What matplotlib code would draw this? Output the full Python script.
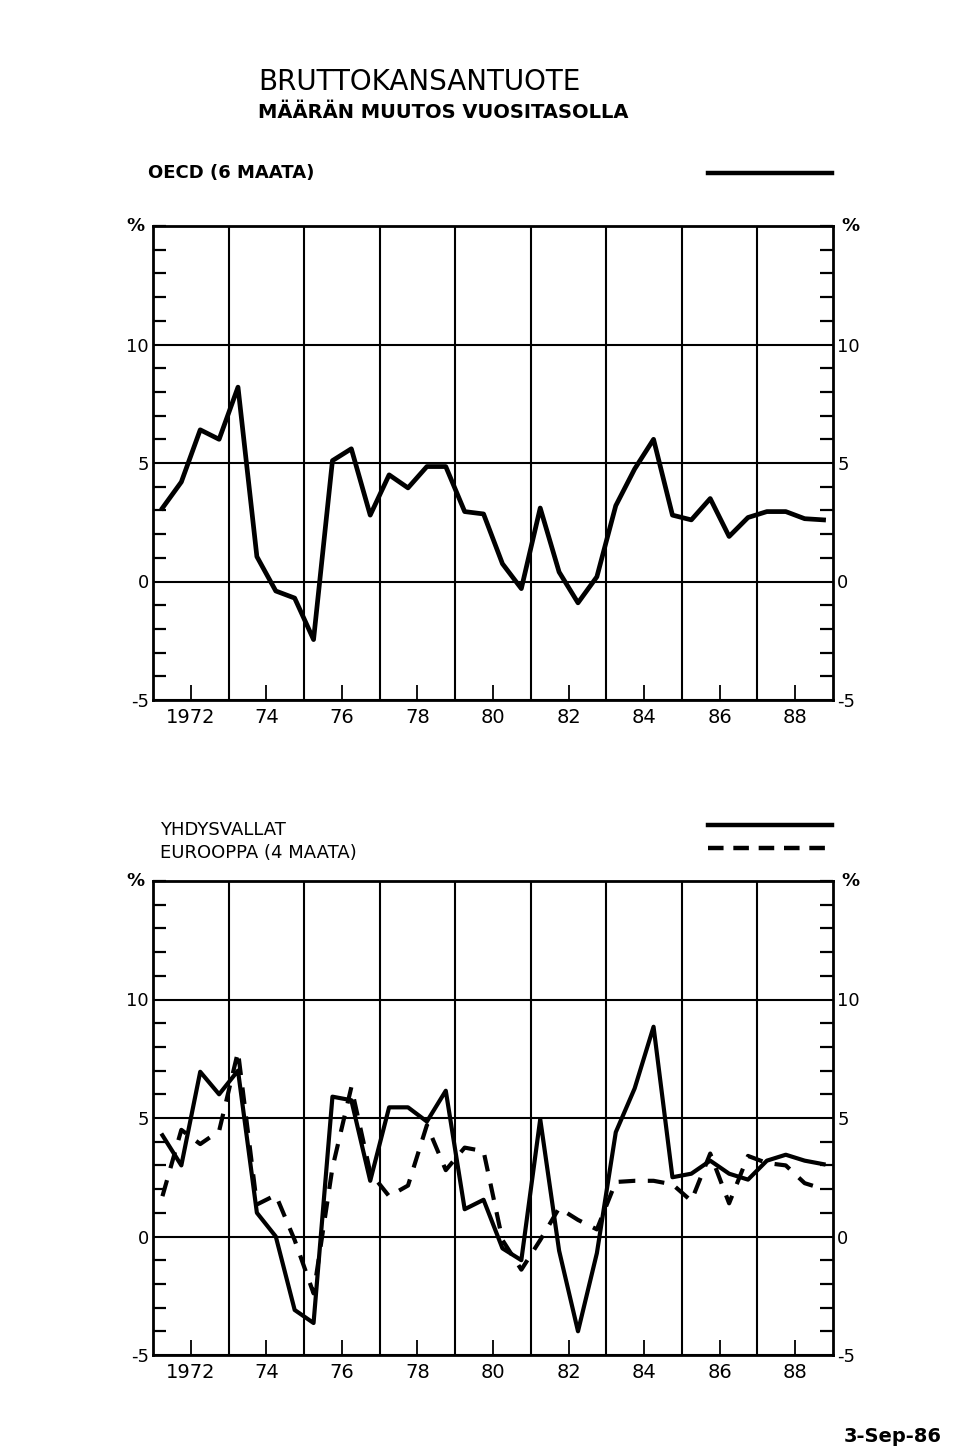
import matplotlib.pyplot as plt
import numpy as np
from matplotlib.lines import Line2D

plt.rcParams['font.family'] = ['DejaVu Sans']

# === Data: half-yearly change, % (annual rate) ===
halfyears = np.arange(1971.25, 1989.0, 0.5)

oecd = [3.1, 4.2, 6.4, 6.0, 8.2, 1.05, -0.4, -0.7, -2.45, 5.1, 5.6, 2.8,
        4.5, 3.95, 4.85, 4.85, 2.95, 2.85, 0.75, -0.3, 3.1, 0.4, -0.9, 0.2,
        3.2, 4.75, 6.0, 2.8, 2.6, 3.5, 1.9, 2.7, 2.95, 2.95, 2.65, 2.6]

usa = [4.27, 3.0, 6.95, 6.0, 7.0, 1.0, 0.0, -3.1, -3.65, 5.9, 5.75, 2.35,
       5.45, 5.45, 4.85, 6.15, 1.15, 1.55, -0.5, -1.0, 4.95, -0.6, -4.0, -0.7,
       4.4, 6.25, 8.85, 2.5, 2.65, 3.2, 2.65, 2.4, 3.2, 3.45, 3.2, 3.05]

europe = [1.7, 4.5, 3.9, 4.45, 7.8, 1.35, 1.75, -0.15, -2.4, 2.9, 6.3, 2.7,
          1.7, 2.15, 4.7, 2.8, 3.75, 3.6, -0.15, -1.4, -0.15, 1.2, 0.7, 0.3,
          2.3, 2.35, 2.35, 2.2, 1.5, 3.5, 1.4, 3.4, 3.1, 3.0, 2.25, 2.0]

year_ticks = [1972, 1974, 1976, 1978, 1980, 1982, 1984, 1986, 1988]
year_labels = ["1972", "74", "76", "78", "80", "82", "84", "86", "88"]
grid_years = [1973, 1975, 1977, 1979, 1981, 1983, 1985, 1987]
y_major = [-5, 0, 5, 10]
y_minor = list(range(-5, 16))

W, H = 960, 1452
fig = plt.figure(figsize=(W / 100, H / 100), dpi=100)


def px(x, y):
    return x / W, 1 - y / H


def setup(ax):
    ax.set_xlim(1971, 1989)
    ax.set_ylim(-5, 15)
    ax.set_xticks(year_ticks, year_labels)
    ax.set_xticks(grid_years, minor=True)
    ax.set_yticks(y_major, [str(v) for v in y_major])
    ax.set_yticks(y_minor, minor=True)
    ax.grid(axis='x', which='minor', color='black', lw=1.5)
    ax.grid(axis='y', which='major', color='black', lw=1.5)
    ax.tick_params(axis='x', which='major', direction='in', length=11,
                   width=1.3, labelsize=14, pad=6)
    ax.tick_params(axis='x', which='minor', length=0)
    ax.tick_params(axis='y', which='major', length=0, labelsize=13,
                   left=True, right=True, labelleft=True, labelright=True, pad=3)
    ax.tick_params(axis='y', which='minor', direction='in', length=9.5,
                   width=1.6, left=True, right=True)
    for s in ax.spines.values():
        s.set_linewidth(2)
    ax.text(-0.012, 1.0, "%", transform=ax.transAxes, ha='right', va='center',
            fontsize=13, fontweight='bold')
    ax.text(1.012, 1.0, "%", transform=ax.transAxes, ha='left', va='center',
            fontsize=13, fontweight='bold')


# === Top panel: OECD ===
ax1 = fig.add_axes([153 / W, 1 - 700 / H, 680 / W, 474 / H])
setup(ax1)
ax1.plot(halfyears, oecd, color='black', lw=3.4)

# === Bottom panel: USA & Europe ===
ax2 = fig.add_axes([153 / W, 1 - 1355 / H, 680 / W, 474 / H])
setup(ax2)
ax2.plot(halfyears, usa, color='black', lw=3.0)
ax2.plot(halfyears, europe, color='black', lw=3.0, dashes=(4, 3))

# === Titles and legend keys ===
fig.text(*px(258, 82), "BRUTTOKANSANTUOTE", fontsize=20, va='center')
fig.text(*px(258, 113), "MÄÄRÄN MUUTOS VUOSITASOLLA", fontsize=14,
         fontweight='bold', va='center')
fig.text(*px(148, 173), "OECD (6 MAATA)", fontsize=13, fontweight='bold',
         va='center')
fig.add_artist(Line2D([708 / W, 832 / W], [1 - 173 / H] * 2, color='black', lw=3.2))

fig.text(*px(160, 830), "YHDYSVALLAT", fontsize=13, va='center')
fig.text(*px(160, 853), "EUROOPPA (4 MAATA)", fontsize=13, va='center')
fig.add_artist(Line2D([708 / W, 832 / W], [1 - 825 / H] * 2, color='black', lw=3.2))
fig.add_artist(Line2D([708 / W, 832 / W], [1 - 848 / H] * 2, color='black', lw=3.2,
                      dashes=(3.5, 2.2)))

fig.text(*px(942, 1437), "3-Sep-86", fontsize=14, fontweight='bold',
         ha='right', va='center')

fig.savefig("out.png", dpi=100)
